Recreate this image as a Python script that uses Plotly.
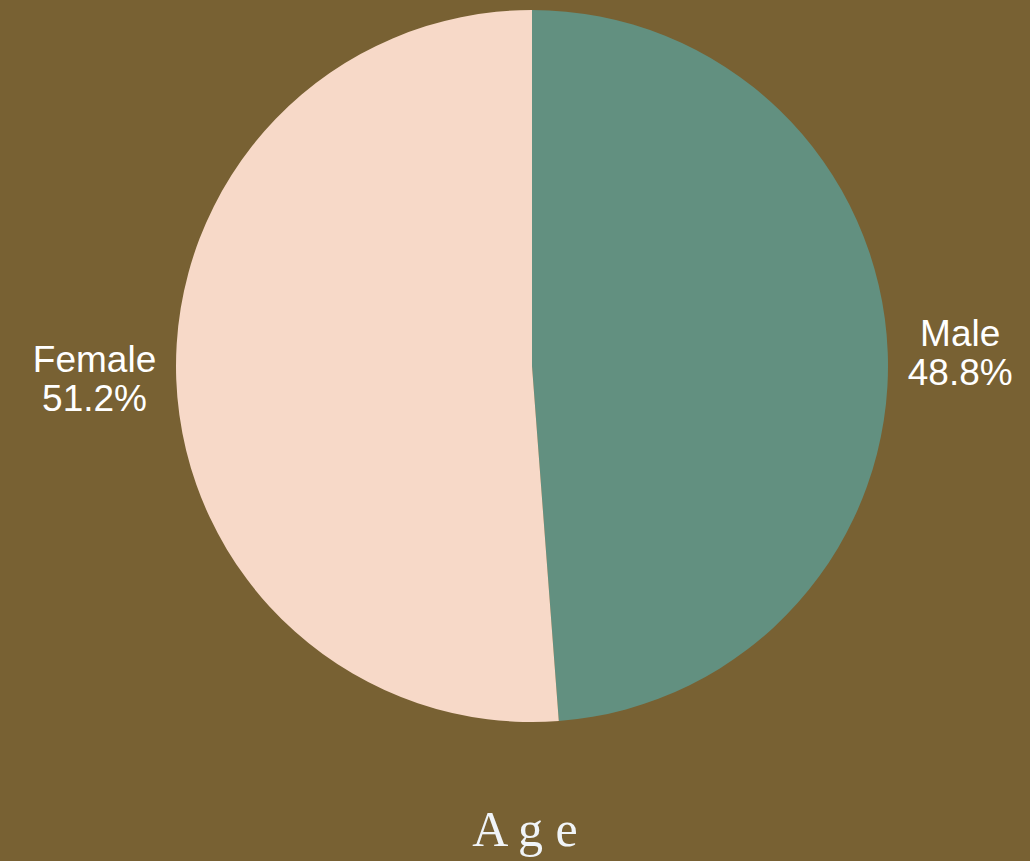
import plotly.graph_objects as go

labels = ["Male", "Female"]
values = [48.8, 51.2]
colors = ["#629080", "#f7d9c8"]
title_text = "A g e"

fig = go.Figure(
    go.Pie(
        labels=labels,
        values=values,
        sort=False,
        direction="clockwise",
        marker=dict(colors=colors),
        texttemplate="<span style='font-size:37px'>%{label}</span><br><span style='font-size:37px'>%{percent}</span>",
        textposition="outside",
        textfont=dict(family="Arial, Liberation Sans, sans-serif", size=30, color="#ffffff"),
        showlegend=False,
        automargin=False,
        domain=dict(x=[0.0, 1.0], y=[0.0, 1.0]),
    )
)
fig.update_layout(
    width=1030,
    height=861,
    autosize=False,
    paper_bgcolor="#786133",
    plot_bgcolor="#786133",
    margin=dict(l=34, r=0, t=10, b=139, autoexpand=False),
    title=dict(
        text=title_text,
        x=0.5097,
        xanchor="center",
        y=0.017,
        yanchor="bottom",
        automargin=False,
        font=dict(family="Liberation Serif, Times New Roman, serif", size=50, color="#f0f4f8"),
    ),
)
fig.write_html(
    "out.html",
    config={"responsive": False, "displayModeBar": False},
    post_script="document.body.style.margin='0';document.body.style.overflow='hidden';",
)
